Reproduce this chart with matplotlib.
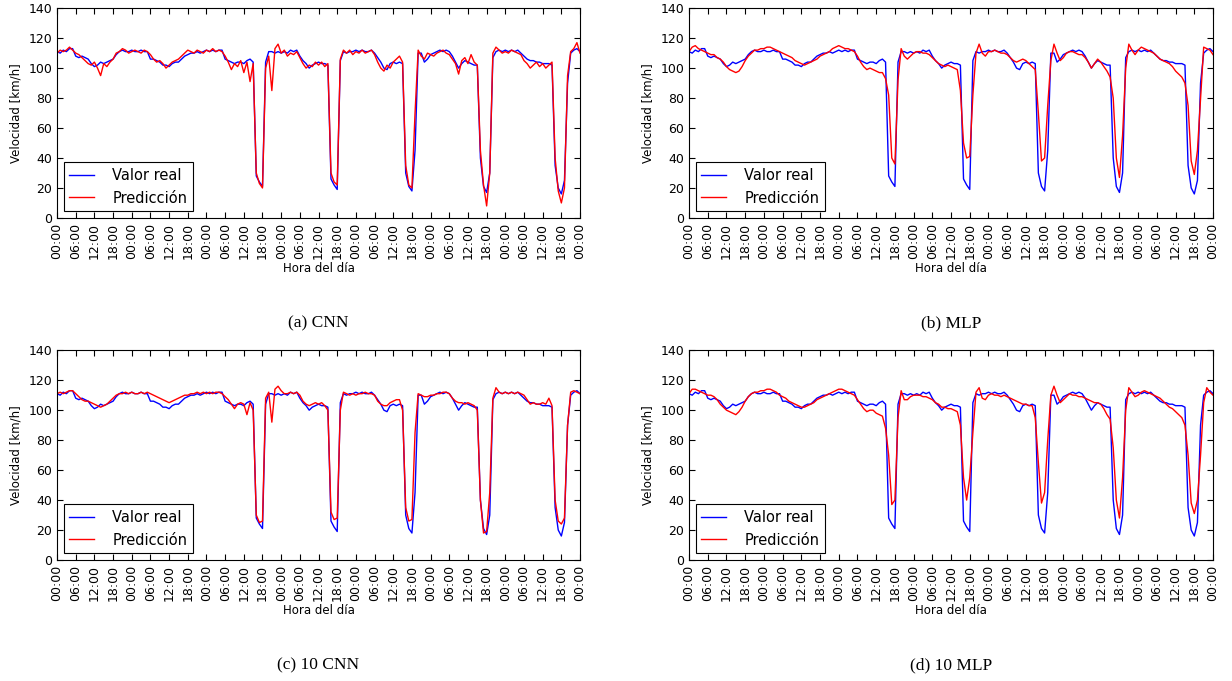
import numpy as np
import matplotlib
matplotlib.use("Agg")
import matplotlib.pyplot as plt

# hourly readings, one week (00:00 day 0 .. 00:00 day 7)
hours = np.arange(169)
tick_labels = ["00:00", "06:00", "12:00", "18:00"] * 7 + ["00:00"]

real = [
    111, 110, 112, 111, 113, 113, 108, 107, 108, 107, 106, 103, 101, 102, 104, 103, 104, 105, 106, 109, 111, 112, 111, 111,
    112, 111, 111, 112, 111, 111, 106, 106, 105, 104, 102, 102, 101, 103, 104, 104, 106, 108, 109, 110, 110, 111, 110, 111,
    112, 111, 112, 111, 112, 112, 106, 105, 104, 103, 104, 104, 103, 105, 106, 104, 28, 24, 21, 104, 111, 111, 110, 111,
    110, 111, 110, 112, 111, 112, 108, 105, 103, 100, 102, 103, 104, 103, 103, 102, 26, 22, 19, 105, 111, 110, 111, 111,
    112, 111, 112, 111, 111, 112, 110, 107, 104, 100, 99, 103, 104, 103, 104, 103, 30, 21, 18, 45, 110, 110, 104, 106,
    109, 110, 111, 112, 111, 112, 111, 108, 104, 100, 103, 105, 104, 103, 102, 102, 40, 21, 17, 30, 107, 111, 112, 111,
    112, 111, 112, 111, 112, 110, 108, 106, 105, 105, 104, 104, 103, 103, 103, 102, 35, 20, 16, 25, 90, 110, 112, 113,
    111,
]

pred_cnn = [
    110, 112, 111, 112, 114, 112, 110, 109, 107, 105, 103, 102, 104, 100, 95, 103, 101, 104, 106, 110, 111, 113, 112, 110,
    111, 112, 111, 110, 112, 111, 109, 106, 104, 105, 103, 100, 102, 104, 105, 106, 108, 110, 112, 111, 110, 112, 111, 110,
    112, 111, 113, 111, 112, 111, 108, 104, 99, 103, 101, 105, 97, 104, 91, 103, 30, 23, 20, 100, 108, 85, 113, 116,
    110, 112, 108, 110, 109, 111, 107, 103, 100, 102, 101, 104, 102, 104, 101, 103, 30, 24, 22, 106, 112, 110, 112, 109,
    111, 110, 112, 110, 111, 112, 109, 104, 100, 98, 102, 100, 104, 106, 108, 104, 35, 22, 20, 70, 112, 108, 106, 110,
    109, 108, 110, 111, 112, 110, 109, 106, 103, 96, 105, 107, 103, 109, 104, 102, 45, 22, 8, 30, 110, 114, 112, 110,
    111, 110, 112, 111, 110, 109, 105, 103, 100, 102, 104, 101, 103, 100, 102, 104, 40, 18, 10, 20, 95, 111, 113, 117,
    110,
]

pred_mlp = [
    111, 114, 115, 113, 112, 111, 110, 109, 109, 107, 106, 104, 101, 99, 98, 97, 98, 101, 105, 108, 110, 112, 112, 113,
    113, 114, 114, 113, 112, 111, 110, 109, 108, 107, 105, 104, 103, 102, 103, 104, 105, 106, 108, 109, 110, 111, 113, 114,
    115, 114, 113, 113, 112, 111, 108, 104, 101, 99, 100, 99, 98, 97, 97, 93, 82, 40, 36, 92, 113, 108, 106, 108,
    110, 111, 111, 110, 110, 109, 107, 105, 103, 102, 101, 102, 101, 100, 99, 85, 50, 40, 41, 82, 110, 116, 110, 108,
    111, 111, 112, 111, 110, 110, 109, 107, 105, 104, 105, 106, 105, 103, 101, 99, 70, 38, 40, 75, 105, 116, 110, 105,
    107, 110, 111, 111, 110, 109, 109, 107, 104, 100, 103, 106, 104, 101, 98, 94, 80, 40, 27, 55, 100, 116, 112, 109,
    112, 114, 113, 112, 111, 110, 108, 106, 105, 104, 103, 101, 98, 96, 94, 90, 75, 38, 29, 45, 80, 114, 113, 112,
    109,
]

pred_cnn10 = [
    111, 112, 111, 112, 113, 113, 111, 109, 107, 106, 106, 105, 104, 103, 102, 103, 104, 106, 108, 110, 111, 111, 112, 111,
    112, 111, 111, 112, 111, 112, 111, 110, 109, 108, 107, 106, 105, 106, 107, 108, 109, 110, 110, 111, 111, 112, 111, 112,
    111, 112, 111, 112, 112, 111, 109, 107, 104, 101, 104, 105, 104, 97, 105, 100, 30, 25, 26, 108, 112, 92, 114, 116,
    113, 111, 111, 112, 111, 112, 110, 106, 104, 103, 104, 105, 104, 105, 103, 100, 32, 27, 28, 100, 112, 111, 110, 111,
    110, 111, 111, 112, 111, 111, 110, 106, 104, 103, 103, 105, 106, 107, 107, 100, 35, 26, 27, 85, 111, 110, 109, 109,
    110, 110, 111, 111, 112, 112, 111, 108, 106, 105, 105, 104, 105, 104, 103, 100, 40, 18, 19, 45, 108, 115, 112, 111,
    112, 111, 112, 111, 112, 111, 110, 107, 104, 105, 104, 104, 105, 104, 108, 103, 40, 26, 24, 28, 90, 112, 113, 112,
    111,
]

pred_mlp10 = [
    111, 114, 114, 113, 112, 111, 110, 110, 109, 107, 104, 102, 100, 99, 98, 97, 99, 102, 106, 109, 111, 112, 112, 113,
    113, 114, 114, 113, 112, 110, 109, 108, 106, 105, 104, 103, 102, 102, 103, 104, 105, 107, 108, 109, 110, 111, 112, 113,
    114, 114, 113, 112, 111, 110, 107, 104, 101, 99, 100, 100, 98, 97, 96, 88, 70, 37, 40, 95, 113, 107, 107, 109,
    110, 110, 110, 109, 109, 108, 107, 105, 104, 102, 102, 101, 101, 100, 99, 90, 55, 40, 55, 85, 112, 115, 108, 107,
    110, 111, 110, 110, 109, 110, 109, 108, 107, 106, 105, 104, 104, 103, 103, 95, 65, 38, 45, 80, 110, 116, 110, 105,
    107, 109, 111, 110, 110, 109, 109, 108, 107, 106, 105, 105, 104, 101, 97, 94, 75, 40, 28, 55, 100, 115, 112, 109,
    110, 112, 113, 112, 111, 110, 109, 108, 106, 104, 102, 101, 99, 97, 95, 90, 70, 38, 31, 40, 70, 105, 115, 112,
    110,
]

panels = [
    ("(a) CNN", pred_cnn, [0.0463, 0.680, 0.4245, 0.308]),
    ("(b) MLP", pred_mlp, [0.5593, 0.680, 0.4253, 0.308]),
    ("(c) 10 CNN", pred_cnn10, [0.0463, 0.1777, 0.4245, 0.308]),
    ("(d) 10 MLP", pred_mlp10, [0.5593, 0.1777, 0.4253, 0.308]),
]

plt.rcParams["font.family"] = "DejaVu Sans"
fig = plt.figure(figsize=(12.32, 6.81), dpi=100)

for caption, pred, rect in panels:
    ax = fig.add_axes(rect)
    ax.plot(hours, real, color="#0000ff", lw=1.0, label="Valor real")
    ax.plot(hours, pred, color="#ff0000", lw=1.0, label="Predicción")
    ax.set_xlim(0, 168)
    ax.set_ylim(0, 140)
    ax.set_xticks(np.arange(0, 169, 6))
    ax.set_xticklabels(tick_labels, rotation=90, fontsize=9)
    ax.set_yticks(np.arange(0, 141, 20))
    ax.tick_params(axis="y", labelsize=9)
    ax.tick_params(direction="in", top=True, right=True, length=4, width=0.8)
    ax.set_xlabel("Hora del día", fontsize=8.5, labelpad=2)
    ax.set_ylabel("Velocidad [km/h]", fontsize=8.5, labelpad=4)
    leg = ax.legend(loc="lower left", fontsize=10.5, fancybox=False,
                    edgecolor="black", framealpha=1, borderaxespad=0.45,
                    handlelength=1.7, handletextpad=1.25)
    leg.get_frame().set_linewidth(0.8)
    cx = rect[0] + rect[2] / 2
    cy = rect[1] - 0.155
    fig.text(cx, cy, caption, ha="center", va="center",
             family="Liberation Serif", fontsize=12.5)

fig.savefig("out.png", dpi=100)
